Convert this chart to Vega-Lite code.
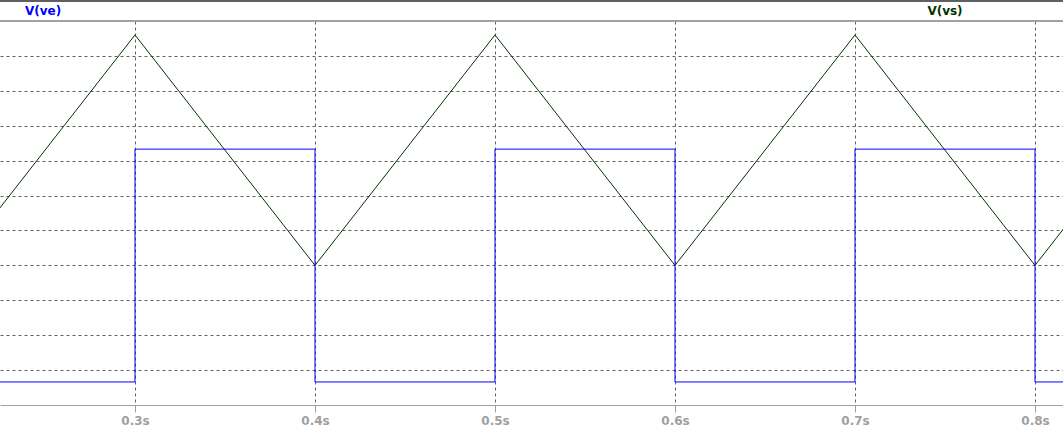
{
  "$schema": "https://vega.github.io/schema/vega-lite/v6.json",
  "width": 1063,
  "height": 384,
  "autosize": {"type": "none"},
  "padding": {"top": 21, "left": 0, "right": 0, "bottom": 25},
  "background": "white",
  "config": {"view": {"stroke": null}},
  "datasets": {
    "waves": [
      {"series": "vs", "i": 0, "t": 0.2, "v": 4.0},
      {"series": "vs", "i": 1, "t": 0.3, "v": 10.6},
      {"series": "vs", "i": 2, "t": 0.4, "v": 4.0},
      {"series": "vs", "i": 3, "t": 0.5, "v": 10.6},
      {"series": "vs", "i": 4, "t": 0.6, "v": 4.0},
      {"series": "vs", "i": 5, "t": 0.7, "v": 10.6},
      {"series": "vs", "i": 6, "t": 0.8, "v": 4.0},
      {"series": "vs", "i": 7, "t": 0.9, "v": 10.6},
      {"series": "ve", "i": 0, "t": 0.2, "v": 0.66},
      {"series": "ve", "i": 1, "t": 0.3, "v": 0.66},
      {"series": "ve", "i": 2, "t": 0.3, "v": 7.33},
      {"series": "ve", "i": 3, "t": 0.4, "v": 7.33},
      {"series": "ve", "i": 4, "t": 0.4, "v": 0.66},
      {"series": "ve", "i": 5, "t": 0.5, "v": 0.66},
      {"series": "ve", "i": 6, "t": 0.5, "v": 7.33},
      {"series": "ve", "i": 7, "t": 0.6, "v": 7.33},
      {"series": "ve", "i": 8, "t": 0.6, "v": 0.66},
      {"series": "ve", "i": 9, "t": 0.7, "v": 0.66},
      {"series": "ve", "i": 10, "t": 0.7, "v": 7.33},
      {"series": "ve", "i": 11, "t": 0.8, "v": 7.33},
      {"series": "ve", "i": 12, "t": 0.8, "v": 0.66},
      {"series": "ve", "i": 13, "t": 0.9, "v": 0.66}
    ],
    "labels": [
      {"name": "V(ve)", "t": 0.2489, "color": "#0000ff"},
      {"name": "V(vs)", "t": 0.75, "color": "#003300"}
    ]
  },
  "data": {"name": "waves"},
  "layer": [
    {
      "mark": {"type": "line", "clip": true, "strokeWidth": 1, "interpolate": "linear"},
      "encoding": {
        "x": {
          "field": "t", "type": "quantitative",
          "scale": {"domain": [0.225, 0.81556], "nice": false, "zero": false},
          "axis": {
            "title": null, "values": [0.3, 0.4, 0.5, 0.6, 0.7, 0.8],
            "labelExpr": "format(datum.value, '.1f') + 's'",
            "labelColor": "#a0a0a0", "labelFont": "DejaVu Sans", "labelFontWeight": "bold",
            "labelFontSize": 12, "labelPadding": 3,
            "domainColor": "#a0a0a0", "tickColor": "#a0a0a0", "tickSize": 7,
            "grid": true, "gridColor": "#606060", "gridDash": [3, 3], "gridOpacity": 1
          }
        },
        "y": {
          "field": "v", "type": "quantitative",
          "scale": {"domain": [0, 11], "nice": false},
          "axis": {
            "title": null, "labels": false, "ticks": false, "domain": false,
            "values": [1, 2, 3, 4, 5, 6, 7, 8, 9, 10],
            "grid": true, "gridColor": "#606060", "gridDash": [3, 3], "gridOpacity": 1
          }
        },
        "detail": {"field": "series"},
        "order": {"field": "i", "type": "quantitative"},
        "color": {
          "field": "series", "type": "nominal", "legend": null,
          "scale": {"domain": ["ve", "vs"], "range": ["#0000ff", "#003300"]}
        }
      }
    },
    {
      "mark": {"type": "rule", "color": "#a0a0a0", "strokeWidth": 1},
      "encoding": {"y": {"datum": 11}}
    },
    {
      "mark": {"type": "rule", "color": "#606060", "strokeWidth": 2, "clip": false},
      "encoding": {"y": {"datum": 11.57}}
    },
    {
      "data": {"name": "labels"},
      "mark": {"type": "text", "font": "DejaVu Sans", "fontWeight": "bold", "fontSize": 12, "baseline": "middle", "dy": -10},
      "encoding": {
        "x": {"field": "t", "type": "quantitative"},
        "y": {"datum": 11},
        "text": {"field": "name"},
        "color": {"field": "color", "type": "nominal", "scale": null}
      }
    }
  ]
}
